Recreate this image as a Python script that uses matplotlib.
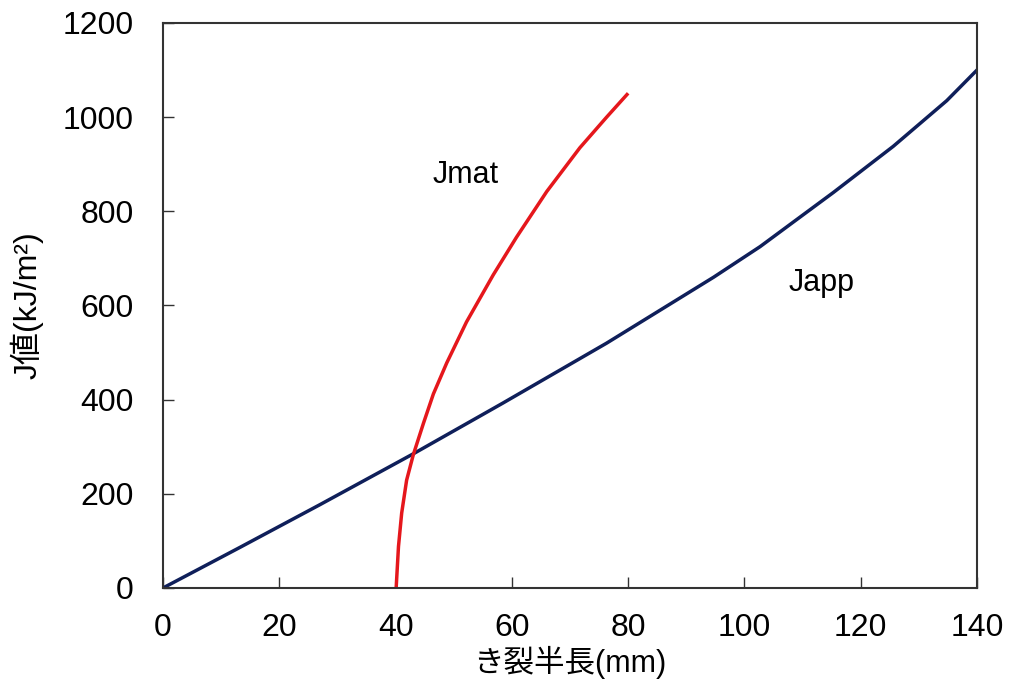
import numpy as np
import matplotlib.pyplot as plt

plt.rcParams['font.family'] = ['Liberation Sans', 'Noto Sans CJK JP']

# J applied (crack driving force) vs half crack length
japp_x = [0, 13.2, 27.0, 43.05, 54.5, 58.5, 76.3, 94.7, 102.7, 109.6, 115.3, 125.6, 134.8, 140]
japp_y = [0, 86, 177, 285, 365, 393, 520, 660, 725, 788, 840, 938, 1035, 1100]

# J material (resistance curve)
jmat_x = [40.1, 40.5, 41.05, 41.9, 43.05, 44.8, 46.5, 48.8, 52.2, 56.8, 60.8, 66.0, 71.7, 76.3, 79.8]
jmat_y = [0, 88, 159, 229, 283, 350, 412, 478, 565, 665, 745, 842, 935, 1000, 1048]

xticks = [0, 20, 40, 60, 80, 100, 120, 140]
yticks = [0, 200, 400, 600, 800, 1000, 1200]

fig = plt.figure(figsize=(10.1, 6.86), dpi=100)
ax = fig.add_axes([0.1614, 0.1429, 0.8059, 0.8236])

ax.plot(japp_x, japp_y, color='#0f1f5a', lw=2.5, solid_joinstyle='round')
ax.plot(jmat_x, jmat_y, color='#e5171c', lw=2.5, solid_joinstyle='round')

ax.text(52, 878, 'Jmat', fontsize=22, ha='center', va='center')
ax.text(113.3, 648, 'Japp', fontsize=22, ha='center', va='center')

ax.set_xlim(0, 140)
ax.set_ylim(0, 1200)
ax.set_xticks(xticks)
ax.set_yticks(yticks)
ax.tick_params(direction='in', length=8, width=1, colors='#333333', labelcolor='black',
               labelsize=23, top=False, right=False)
ax.tick_params(axis='y', pad=21)
ax.tick_params(axis='x', pad=18)
for s in ax.spines.values():
    s.set_color('#333333')
    s.set_linewidth(1.5)

ax.set_xlabel('き裂半長(mm)', fontsize=22)
ax.xaxis.set_label_coords(0.5, -0.103)
ax.set_ylabel('J値(kJ/m²)', fontsize=23)
ax.yaxis.set_label_coords(-0.147, 0.5)

fig.savefig('out.png', dpi=100)
